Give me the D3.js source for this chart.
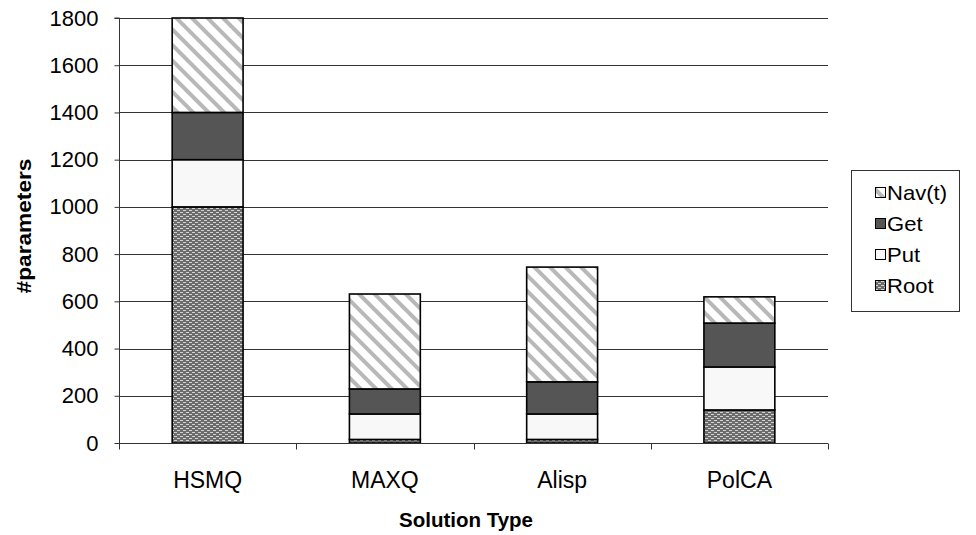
<!DOCTYPE html>
<html>
<head>
<meta charset="utf-8">
<script src="https://cdn.jsdelivr.net/npm/d3@7"></script>
<style>
  html, body { margin: 0; padding: 0; background: #fff; }
  svg { display: block; font-family: "Liberation Sans", Arial, sans-serif; }
</style>
</head>
<body>
<svg id="chart" width="976" height="535"></svg>
<script>
// ---- data ----
const categories = ["HSMQ", "MAXQ", "Alisp", "PolCA"];
const seriesNames = ["Root", "Put", "Get", "Nav(t)"];
const rootValues = [1000, 15, 15, 140];
const putValues  = [200, 108, 108, 182];
const getValues  = [200, 106, 136, 186];
const navValues  = [400, 402, 486, 111];
const yTicks = [0, 200, 400, 600, 800, 1000, 1200, 1400, 1600, 1800];
const xTitle = "Solution Type";
const yTitle = "#parameters";

(function () {
const seriesValues = [rootValues, putValues, getValues, navValues];
const table = categories.map((c, i) => {
  const row = { cat: c };
  seriesNames.forEach((s, j) => row[s] = seriesValues[j][i]);
  return row;
});

const svg = d3.select("#chart");
const defs = svg.append("defs");

// Nav(t): diagonal light-gray stripes
const pNav = defs.append("pattern").attr("id", "pNav")
  .attr("patternUnits", "userSpaceOnUse").attr("width", 11).attr("height", 11)
  .attr("patternTransform", "rotate(-45)");
pNav.append("rect").attr("width", 11).attr("height", 11).attr("fill", "#fff");
pNav.append("rect").attr("x", 0).attr("width", 4).attr("height", 11).attr("fill", "#b8b8b8");

// Root: fine brick-dot pattern
const pRoot = defs.append("pattern").attr("id", "pRoot")
  .attr("patternUnits", "userSpaceOnUse").attr("width", 6).attr("height", 4);
pRoot.append("rect").attr("width", 6).attr("height", 4).attr("fill", "#6c6c6c");
pRoot.append("rect").attr("x", 0).attr("y", 0).attr("width", 3).attr("height", 1).attr("fill", "#d2d2d2");
pRoot.append("rect").attr("x", 3).attr("y", 2).attr("width", 3).attr("height", 1).attr("fill", "#d2d2d2");

const fills = { "Root": "url(#pRoot)", "Put": "#f8f8f8", "Get": "#555555", "Nav(t)": "url(#pNav)" };

const pLeft = 119, pRight = 828, pTop = 18, pBottom = 443;
const x = d3.scaleBand().domain(categories).range([pLeft, pRight]).paddingInner(0.6).paddingOuter(0.3);
const y = d3.scaleLinear().domain([0, 1800]).range([pBottom, pTop]);

// gridlines
svg.append("g").selectAll("line").data(yTicks.filter(t => t > 0)).join("line")
  .attr("x1", pLeft).attr("x2", pRight)
  .attr("y1", d => Math.round(y(d)) + 0.5).attr("y2", d => Math.round(y(d)) + 0.5)
  .attr("stroke", "#333").attr("stroke-width", 1);

// stacked bars
const stack = d3.stack().keys(seriesNames)(table);
svg.append("g").selectAll("g").data(stack).join("g")
  .attr("fill", d => fills[d.key])
  .selectAll("rect").data(d => d).join("rect")
  .attr("x", d => x(d.data.cat))
  .attr("width", x.bandwidth())
  .attr("y", d => y(d[1]))
  .attr("height", d => y(d[0]) - y(d[1]))
  .attr("stroke", "#000").attr("stroke-width", 1.6);

// y axis
const yAxis = d3.axisLeft(y).tickValues(yTicks).tickSize(5).tickPadding(16).tickFormat(d3.format("d"));
const gy = svg.append("g").attr("transform", `translate(${pLeft + 0.5},0)`).call(yAxis);
gy.select(".domain").attr("stroke", "#333").attr("d", `M-5,${pTop}H0V${pBottom}`);
gy.selectAll(".tick line").attr("stroke", "#333");
gy.selectAll("text").attr("font-size", 22).attr("fill", "#000")
  .attr("font-family", "'Liberation Sans', Arial, sans-serif");

// x axis
const gx = svg.append("g").attr("transform", `translate(0,${pBottom + 0.5})`);
gx.append("line").attr("x1", pLeft).attr("x2", pRight).attr("stroke", "#333");
const bounds = d3.range(categories.length + 1).map(i => pLeft + i * x.step());
gx.selectAll(".tk").data(bounds).join("line").attr("class", "tk")
  .attr("x1", d => Math.round(d) + 0.5).attr("x2", d => Math.round(d) + 0.5)
  .attr("y1", 0).attr("y2", 6).attr("stroke", "#333");
gx.selectAll("text").data(categories).join("text")
  .attr("transform", d => `translate(${x(d) + x.bandwidth() / 2},44)`)
  .attr("text-anchor", "middle").attr("font-size", 23).attr("fill", "#000")
  .text(d => d);

// titles
svg.append("text").attr("transform", "translate(466,527)").attr("text-anchor", "middle")
  .attr("font-size", 20.5).attr("font-weight", "bold").text(xTitle);
svg.append("text").attr("transform", "translate(31,226) rotate(-90) scale(1.08,1)")
  .attr("text-anchor", "middle").attr("font-size", 21).attr("font-weight", "bold").text(yTitle);

// legend
const lg = svg.append("g");
lg.append("rect").attr("x", 851.5).attr("y", 170.5).attr("width", 108).attr("height", 141)
  .attr("fill", "#fff").attr("stroke", "#333");
const legendOrder = ["Nav(t)", "Get", "Put", "Root"];
const li = lg.selectAll("g").data(legendOrder).join("g")
  .attr("transform", (d, i) => `translate(875,${192 + i * 31})`);
li.append("rect").attr("x", 0.5).attr("y", -4.5).attr("width", 10).attr("height", 10)
  .attr("fill", d => fills[d]).attr("stroke", "#000").attr("stroke-width", 1);
li.append("text").attr("transform", `translate(12,8) scale(1.05,1)`)
  .attr("font-size", 21).attr("fill", "#000").text(d => d);
})();
</script>
</body>
</html>
